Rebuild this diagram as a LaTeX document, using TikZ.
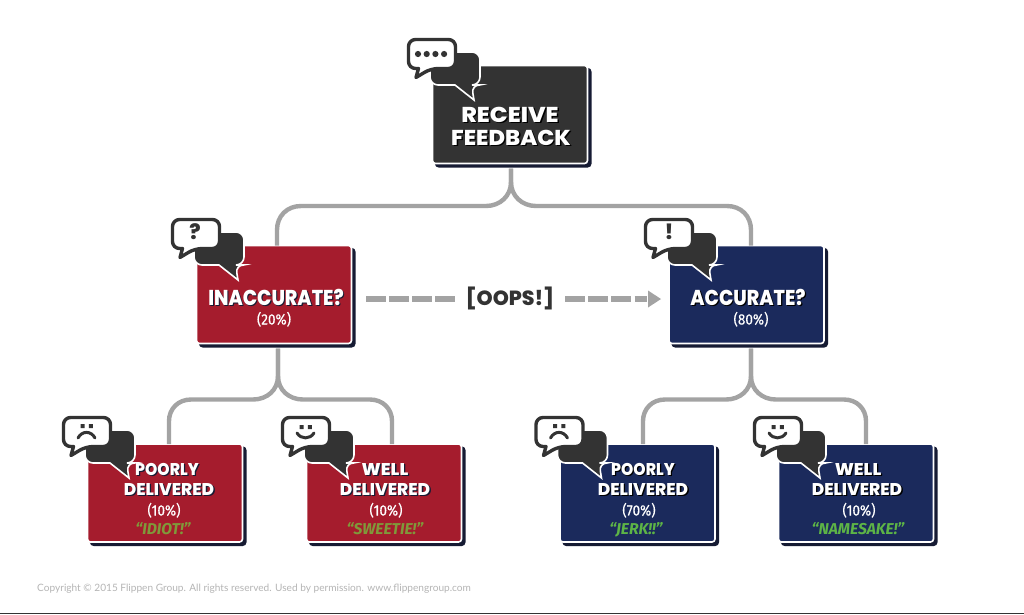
\documentclass[tikz,border=0pt]{standalone}
\usepackage{fontspec}
\usepackage{graphicx}
\usetikzlibrary{arrows.meta}
\setmainfont{Lato}
\newfontfamily\hdfont{Poppins}[BoldFont={Poppins ExtraBold}]
\newfontfamily\qtfont{Fira Sans}
\newfontfamily\pcfont[FakeStretch=0.9,FakeBold=0.3]{Fira Sans}
\definecolor{inkdark}{HTML}{333333}
\definecolor{redbox}{HTML}{A51C2D}
\definecolor{navybox}{HTML}{1B2A5C}
\definecolor{shadowbox}{HTML}{161B33}
\definecolor{linegray}{HTML}{A3A3A3}
\definecolor{qtred}{HTML}{80993A}
\definecolor{qtnavy}{HTML}{5DB446}
\definecolor{copygray}{HTML}{B5B5B5}
\newcommand{\shtxt}[3]{\scalebox{#1}[1]{\makebox[0pt][l]{\kern1.3pt\raisebox{-1.3pt}{\color{#2}#3}}#3}}
\newcommand{\chatbub}[3]{%
\begin{scope}[shift={(#1,#2)}]
\draw[white,fill=inkdark,line width=1.6pt,rounded corners=8pt] (-3,-14) -- (47,-14) -- (47,19) -- (38.5,19) [sharp corners] -- (41,34) -- (22,19) [rounded corners=8pt] -- (-3,19) -- cycle;
\draw[inkdark,fill=white,line width=3.4pt,rounded corners=7pt,line join=round] (-24.5,-26.5) -- (22.5,-26.5) -- (22.5,2.5) -- (-2,2.5) [sharp corners] -- (-17,11.5) -- (-14.5,2.5) [rounded corners=7pt] -- (-24.5,2.5) -- cycle;
#3
\end{scope}}
\newcommand{\dotsicon}{\foreach \i in {-15,-6.3,2.4,11.1} \fill[inkdark] (\i,-12) circle (3.1pt);}
\newcommand{\frownicon}{\fill[inkdark] (-7.3,-20) rectangle (-3.3,-16) (0.8,-20) rectangle (4.8,-16);
\draw[inkdark,line width=3pt,line cap=round] (-10,-6) .. controls (-6,-13.5) and (3,-13.5) .. (7,-6);}
\newcommand{\smileicon}{\fill[inkdark] (-7.3,-19) rectangle (-3.3,-15) (0.8,-19) rectangle (4.8,-15);
\draw[inkdark,line width=3pt,line cap=round] (-10,-11) .. controls (-6,-4.5) and (3,-4.5) .. (7,-11);}
\tikzset{
  boxbase/.style={draw=white,line width=1.6pt,rounded corners=3pt,minimum width=155pt,inner sep=0pt,outer sep=0pt,
    preaction={draw=shadowbox,fill=shadowbox,transform canvas={shift={(3.2pt,-3.2pt)}}}},
  bigbox/.style={boxbase,minimum height=98pt},
  redb/.style={bigbox,fill=redbox},
  navyb/.style={bigbox,fill=navybox},
  darkb/.style={bigbox,fill=inkdark},
  conn/.style={draw=linegray,line width=4.4pt},
  dashc/.style={draw=linegray,line width=5.6pt,dash pattern=on 19.5pt off 3.6pt},
  lab/.style={anchor=base,inner sep=0pt,text=white},
  big/.style={lab,font=\hdfont\bfseries\fontsize{21.5}{21.5}\selectfont},
  mid/.style={lab,font=\hdfont\bfseries\fontsize{17}{17}\selectfont},
  pct/.style={lab,font=\pcfont\fontsize{15}{15}\selectfont},
  qt/.style={lab,font=\qtfont\bfseries\itshape\fontsize{15.7}{15.7}\selectfont},
  sym/.style={anchor=base,inner sep=0pt,text=inkdark,font=\hdfont\bfseries\fontsize{21}{21}\selectfont}
}
\begin{document}
\begin{tikzpicture}[x=1pt,y=-1pt]
\useasboundingbox (0,0) rectangle (1024,614);
\fill[white] (0,0) rectangle (1024,614);
\fill[inkdark] (0,612.6) rectangle (1024,614);
% boxes
\node[darkb] (recv) at (510,114.5) {};
\node[redb] (inac) at (274,294.5) {};
\node[navyb] (acc) at (746.5,294.5) {};
\node[redb] (pl) at (165,493) {};
\node[redb] (wl) at (384,493) {};
\node[navyb] (pr) at (637.5,493) {};
\node[navyb] (wr) at (856,493) {};
% connectors
\draw[conn] ([xshift=1pt,yshift=-5pt]recv.south) -- (511,182) .. controls (511,196) and (500,206) .. (486,206) -- (301,206) .. controls (287,206) and (277,216) .. (277,230) -- ([xshift=3pt]inac.north);
\draw[conn] ([xshift=1pt,yshift=-5pt]recv.south) -- (511,182) .. controls (511,196) and (522,206) .. (536,206) -- (727,206) .. controls (741,206) and (751,216) .. (751,230) -- ([xshift=4.5pt]acc.north);
\draw[conn] ([xshift=4pt,yshift=-5pt]inac.south) -- (278,376) .. controls (278,390) and (267,399.5) .. (253,399.5) -- (191,399.5) .. controls (178,399.5) and (169,409) .. (169,421) -- ([xshift=4pt]pl.north);
\draw[conn] ([xshift=4pt,yshift=-5pt]inac.south) -- (278,376) .. controls (278,390) and (289,399.5) .. (303,399.5) -- (370,399.5) .. controls (383,399.5) and (392,409) .. (392,421) -- ([xshift=8pt]wl.north);
\draw[conn] ([xshift=4.5pt,yshift=-5pt]acc.south) -- (751,376) .. controls (751,390) and (740,399.5) .. (726,399.5) -- (665,399.5) .. controls (652,399.5) and (643,409) .. (643,421) -- ([xshift=5.5pt]pr.north);
\draw[conn] ([xshift=4.5pt,yshift=-5pt]acc.south) -- (751,376) .. controls (751,390) and (762,399.5) .. (776,399.5) -- (844,399.5) .. controls (857,399.5) and (866,409) .. (866,421) -- ([xshift=10pt]wr.north);
% oops
\node[anchor=base,inner sep=0pt,text=inkdark,font=\hdfont\bfseries\fontsize{20.5}{20.5}\selectfont] (oops) at (510,305) {[OOPS!]};
\draw[dashc] ([xshift=14.5pt,yshift=-4.5pt]inac.east) -- ([xshift=-11pt,yshift=-4.5pt]oops.west |- inac.east);
\draw[dashc] ([xshift=11pt,yshift=-4.5pt]oops.east |- acc.west) -- ([xshift=-22pt,yshift=-4.5pt]acc.west);
\fill[linegray] (648,290.5) -- (661,299) -- (648,307.5) -- cycle;
% bubbles
\chatbub{433}{66}{\dotsicon}
\chatbub{197}{246}{\node[sym] (qm) at (-2,-6.5) {?};}
\chatbub{670}{246}{\node[sym] (em) at (-1,-6.5) {!};}
\chatbub{88}{444}{\frownicon}
\chatbub{307}{444}{\smileicon}
\chatbub{560.5}{444}{\frownicon}
\chatbub{779}{444}{\smileicon}
% labels
\node[big] (t1) at (510,122) {\shtxt{1.1}{black}{RECEIVE}};
\node[big] (t2) at (511,145) {\shtxt{1.05}{black}{FEEDBACK}};
\node[big] (t3) at (276,305.5) {\shtxt{0.88}{shadowbox}{INACCURATE?}};
\node[pct] (t4) at (274,324.5) {(20\%)};
\node[big] (t5) at (748,305.5) {\shtxt{0.88}{black}{ACCURATE?}};
\node[pct] (t6) at (751,324.5) {(80\%)};
\node[mid] (a1) at (167,475.5) {\shtxt{0.92}{shadowbox}{POORLY}};
\node[mid] (a2) at (169,495) {\shtxt{1.0}{shadowbox}{DELIVERED}};
\node[pct] (a3) at (164,515.5) {(10\%)};
\node[qt,text=qtred] (a4) at (163,534) {“IDIOT!”};
\node[mid] (b1) at (385,475.5) {\shtxt{1.05}{shadowbox}{WELL}};
\node[mid] (b2) at (385,495) {\shtxt{1.0}{shadowbox}{DELIVERED}};
\node[pct] (b3) at (386,515.5) {(10\%)};
\node[qt,text=qtred] (b4) at (385,534) {“SWEETIE!”};
\node[mid] (c1) at (643,475.5) {\shtxt{0.92}{black}{POORLY}};
\node[mid] (c2) at (643,495) {\shtxt{1.0}{black}{DELIVERED}};
\node[pct] (c3) at (639,515.5) {(70\%)};
\node[qt,text=qtnavy] (c4) at (636,534) {“JERK!!”};
\node[mid] (d1) at (858,475.5) {\shtxt{1.05}{black}{WELL}};
\node[mid] (d2) at (857,495) {\shtxt{1.0}{black}{DELIVERED}};
\node[pct] (d3) at (859,515.5) {(10\%)};
\node[qt,text=qtnavy] (d4) at (858,534) {“NAMESAKE!”};
\node[anchor=base west,inner sep=0pt,text=copygray,font=\fontsize{10.1}{10.1}\selectfont] (copy) at (37,591) {Copyright © 2015 Flippen Group. All rights reserved. Used by permission. www.flippengroup.com};
\end{tikzpicture}
\end{document}
